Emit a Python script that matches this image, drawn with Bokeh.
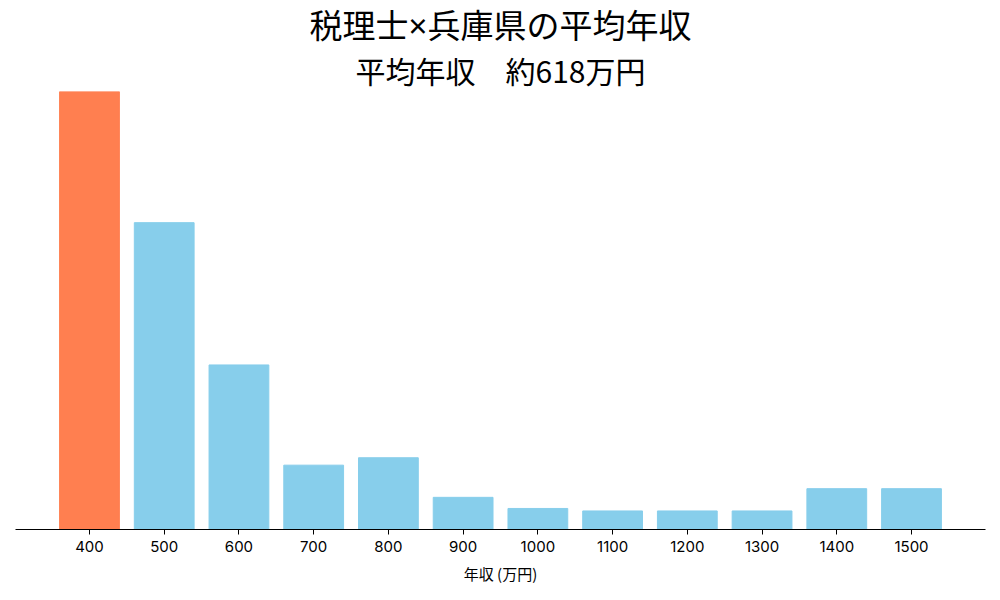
from bokeh.plotting import figure
from bokeh.models import ColumnDataSource, Title, FixedTicker
from bokeh.embed import file_html
from bokeh.resources import INLINE

# income bins (万円) and share of each bin
incomes = [400, 500, 600, 700, 800, 900, 1000, 1100, 1200, 1300, 1400, 1500]
shares = [35.4, 24.8, 13.3, 5.2, 5.8, 2.6, 1.7, 1.5, 1.5, 1.5, 3.3, 3.3]
tick_labels = [str(x) for x in incomes]
title_text = "税理士×兵庫県の平均年収"
subtitle_text = "平均年収　約618万円"
xlabel = "年収 (万円)"

colors = ["#FF7F50"] + ["#87CEEB"] * (len(incomes) - 1)
src = ColumnDataSource(data=dict(x=incomes, top=shares, color=colors))

JP = "Noto Sans CJK JP"
MIXED = "Noto Sans, Noto Sans CJK JP"  # latin glyphs narrow, kanji from CJK font

p = figure(width=1000, height=600, x_range=(301, 1599), y_range=(0, max(shares)),
           toolbar_location=None, output_backend="svg", min_border_left=15,
           min_border_right=15, min_border_bottom=71, min_border_top=91)
p.title = None
p.vbar(x="x", top="top", width=80, color="color", source=src)

# subtitle sits closest to the plot, main title above it
p.add_layout(Title(text=subtitle_text, align="center", text_font=JP, text_font_size="30px",
                   text_font_style="normal", text_color="black", standoff=0), "above")
p.add_layout(Title(text=title_text, align="center", text_font=MIXED, text_font_size="33px",
                   text_font_style="normal", text_color="black", standoff=-5), "above")

p.yaxis.visible = False
p.grid.visible = False
p.outline_line_color = None

p.xaxis.ticker = FixedTicker(ticks=incomes)
p.xaxis.major_label_overrides = {x: l for x, l in zip(incomes, tick_labels)}
p.xaxis.minor_tick_line_color = None
p.xaxis.major_tick_in = 0
p.xaxis.major_tick_out = 5
p.xaxis.axis_line_color = "black"
p.xaxis.major_tick_line_color = "black"
p.xaxis.major_label_text_font = "Inter"
p.xaxis.major_label_text_font_size = "15px"
p.xaxis.major_label_text_color = "black"
p.xaxis.major_label_standoff = 6
p.xaxis.axis_label = xlabel
p.xaxis.axis_label_text_font = JP
p.xaxis.axis_label_text_font_size = "15px"
p.xaxis.axis_label_text_font_style = "normal"
p.xaxis.axis_label_text_color = "black"
p.xaxis.axis_label_standoff = 8

open("out.html", "w").write(file_html(p, INLINE))
